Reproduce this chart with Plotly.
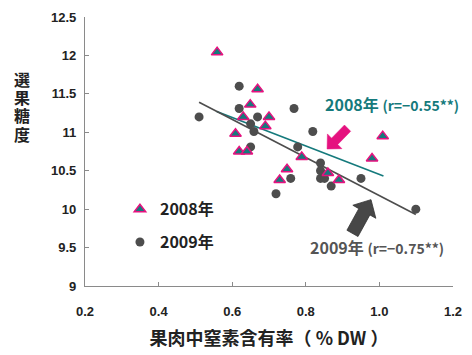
import plotly.graph_objects as go
import numpy as np

# ---- data ----
x2008 = [0.559, 0.669, 0.649, 0.630, 0.700, 0.690, 0.609, 0.619, 0.640, 0.789,
         0.749, 0.729, 0.860, 0.890, 0.980, 1.009]
y2008 = [12.04, 11.56, 11.36, 11.20, 11.20, 11.08, 10.98, 10.75, 10.75, 10.68,
         10.52, 10.38, 10.47, 10.38, 10.66, 10.95]
x2009 = [0.510, 0.619, 0.619, 0.669, 0.650, 0.659, 0.650, 0.768, 0.819, 0.778,
         0.759, 0.719, 0.840, 0.840, 0.840, 0.851, 0.869, 0.950, 1.099]
y2009 = [11.20, 11.60, 11.31, 11.20, 11.11, 11.01, 10.81, 11.31, 11.01, 10.81,
         10.40, 10.20, 10.60, 10.50, 10.40, 10.40, 10.30, 10.40, 10.00]
trend2008_x = [0.558, 1.011]
trend2008_y = [11.27, 10.43]
trend2009_x = [0.510, 1.099]
trend2009_y = [11.39, 9.93]
xticks = [0.2, 0.4, 0.6, 0.8, 1.0, 1.2]
xticklabels = ["0.2", "0.4", "0.6", "0.8", "1.0", "1.2"]
yticks = [9, 9.5, 10, 10.5, 11, 11.5, 12, 12.5]
yticklabels = ["9", "9.5", "10", "10.5", "11", "11.5", "12", "12.5"]
ytitle_chars = ["選", "果", "糖", "度"]

TEAL = "#157a7c"
PINK = "#e5127f"
DGRAY = "#4d4d4d"
JP = "Noto Sans CJK JP"
NUM = "Liberation Sans"

W, H = 472, 355
ML, MR, MT, MB = 85, 10, 15, 69
XR = (0.2, 1.2)
YR = (9, 12.5)
pw = W - ML - MR
ph = H - MT - MB

def px2data(px, py):
    x = XR[0] + (px - ML) / pw * (XR[1] - XR[0])
    y = YR[1] - (py - MT) / ph * (YR[1] - YR[0])
    return x, y

def arrow_path(tail, tip, sw, hw, hl):
    t = np.array(tail, float); p = np.array(tip, float)
    d = (p - t) / np.linalg.norm(p - t)
    n = np.array([-d[1], d[0]])
    neck = p - d * hl
    pts = [t + n * sw / 2, neck + n * sw / 2, neck + n * hw / 2, p,
           neck - n * hw / 2, neck - n * sw / 2, t - n * sw / 2]
    dp = [px2data(*q) for q in pts]
    return "M " + " L ".join(f"{a:.5f},{b:.5f}" for a, b in dp) + " Z"

fig = go.Figure()
fig.add_trace(go.Scatter(x=trend2008_x, y=trend2008_y, mode="lines",
                         line=dict(color=TEAL, width=1.6), showlegend=False))
fig.add_trace(go.Scatter(x=trend2009_x, y=trend2009_y, mode="lines",
                         line=dict(color=DGRAY, width=1.6), showlegend=False))
fig.add_trace(go.Scatter(x=x2009, y=y2009, mode="markers", name="2009年",
                         marker=dict(symbol="circle", size=9, color=DGRAY),
                         legend="legend2"))
fig.add_trace(go.Scatter(x=x2008, y=y2008, mode="markers", name="2008年",
                         marker=dict(symbol="triangle-up", size=10, color=TEAL,
                                     line=dict(color=PINK, width=1.5)),
                         legend="legend"))

fig.add_shape(type="path", path=arrow_path((354, 127), (333, 148), 9, 21, 11),
              fillcolor=PINK, line=dict(color=PINK, width=0.5), layer="above")
fig.add_shape(type="path", path=arrow_path((359, 233), (378, 199), 13, 27, 14),
              fillcolor="#474747", line=dict(color="#333", width=0.8), layer="above")

fig.add_annotation(xref="paper", yref="paper", x=(470 - ML) / pw,
                   y=1 - (103 - MT) / ph, xanchor="right", yanchor="middle",
                   text="2008年 <span style='font-size:14px'>(r=−0.55**)</span>",
                   showarrow=False,
                   font=dict(family=JP, size=16, color=TEAL, weight="bold"))
fig.add_annotation(xref="paper", yref="paper", x=(455 - ML) / pw,
                   y=1 - (247 - MT) / ph, xanchor="right", yanchor="middle",
                   text="2009年 <span style='font-size:14px'>(r=−0.75**)</span>",
                   showarrow=False,
                   font=dict(family=JP, size=16, color="#555555", weight="bold"))
for i, ch in enumerate(ytitle_chars):
    py = 77 + i * 18.5
    fig.add_annotation(xref="paper", yref="paper", x=-0.172,
                       y=1 - (py - MT) / ph, xanchor="center", yanchor="middle",
                       text=ch, showarrow=False, height=18, borderpad=0,
                       font=dict(family=JP, size=16, color="#222", weight="bold"))

axis_common = dict(showgrid=False, zeroline=False, showline=True,
                   linecolor="#8a8a8a", linewidth=1.2, ticks="inside",
                   ticklen=4, tickcolor="#8a8a8a", mirror=False,
                   tickfont=dict(family=NUM, size=13, color="#222", weight="bold"))
fig.update_xaxes(range=list(XR), tickvals=xticks, ticktext=xticklabels,
                 ticklabelstandoff=13,
                 title=dict(text="果肉中窒素含有率（ % DW ）", standoff=14,
                            font=dict(family=JP, size=18, color="#222", weight="bold")),
                 **axis_common)
fig.update_yaxes(range=list(YR), tickvals=yticks, ticktext=yticklabels,
                 ticklabelstandoff=5, **axis_common)

legfont = dict(family=JP, size=16, color="#222", weight="bold")
fig.update_layout(
    width=W, height=H,
    margin=dict(l=ML, r=MR, t=MT, b=MB),
    paper_bgcolor="white", plot_bgcolor="white",
    legend=dict(x=0.095, y=0.285, xanchor="left", yanchor="middle",
                font=legfont, bgcolor="rgba(0,0,0,0)", itemwidth=30),
    legend2=dict(x=0.095, y=0.163, xanchor="left", yanchor="middle",
                 font=legfont, bgcolor="rgba(0,0,0,0)", itemwidth=30),
)

fig.write_html("out.html")
